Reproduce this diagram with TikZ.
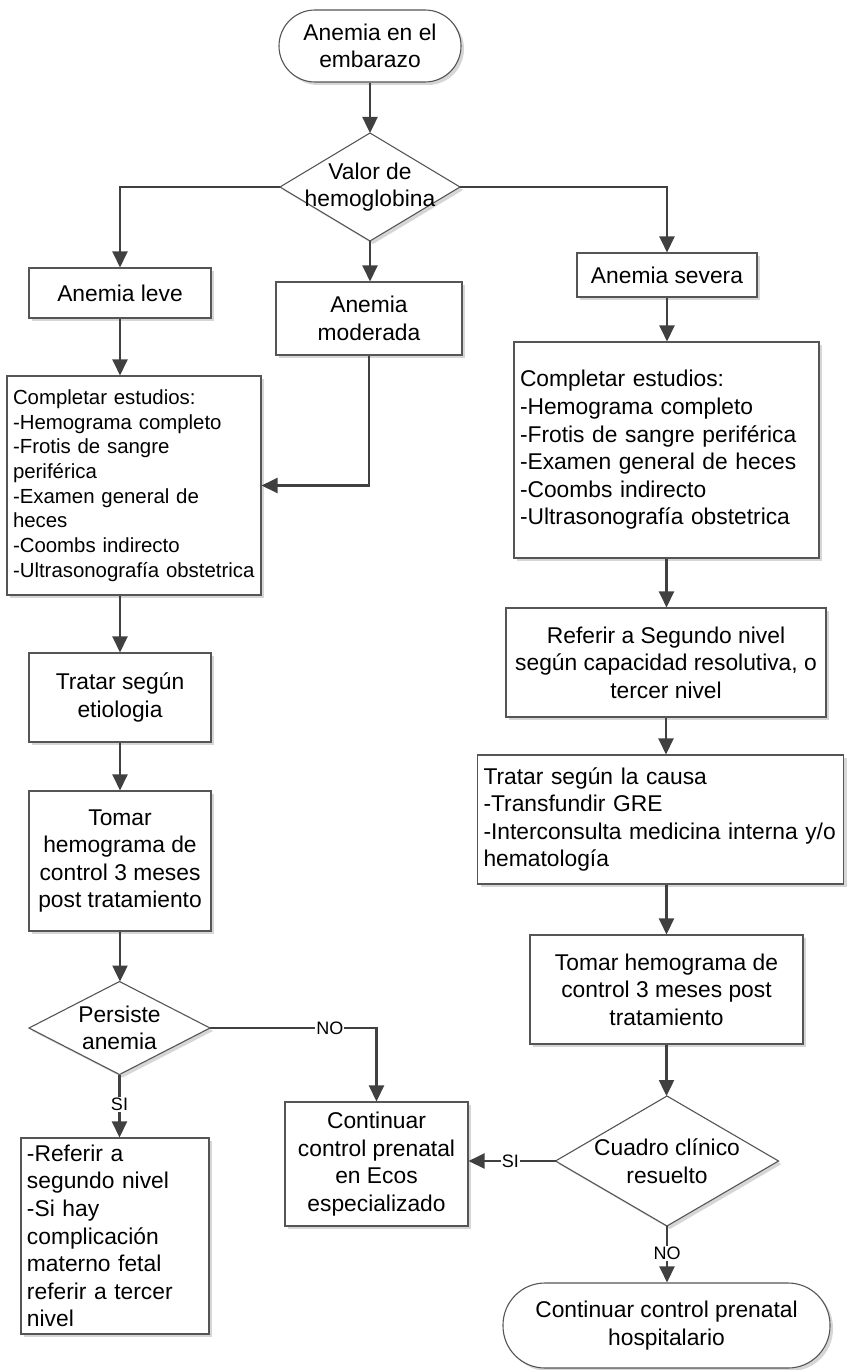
\documentclass[tikz,border=0pt]{standalone}
\usepackage{fontspec}
\setmainfont{Liberation Sans}
\usetikzlibrary{arrows.meta,shapes.geometric,shadows}
\definecolor{edgec}{HTML}{555555}
\definecolor{linec}{HTML}{404040}
\newcommand\mainfs{\fontsize{22.8}{27.6}\selectfont}
\newcommand\smallfs{\fontsize{20.4}{24.7}\selectfont}
\begin{document}
\begin{tikzpicture}[x=1pt,y=-1pt,
  shad/.style={drop shadow={shadow xshift=3pt,shadow yshift=-3pt,fill=black!16,opacity=1}},
  box/.style={rectangle,draw=edgec,line width=1.1pt,fill=white,inner sep=0pt,align=center,font=\mainfs,shad},
  lbox/.style={box,align=left,inner xsep=6pt},
  term/.style={box},
  dia/.style={diamond,draw=edgec,line width=1.1pt,fill=white,inner sep=0pt,outer sep=0pt,shad},
  dtext/.style={align=center,font=\mainfs,inner sep=0pt},
  arr/.style={draw=linec,line width=2.4pt,-{Triangle[length=16pt,width=15pt]}},
  lbl/.style={fill=white,inner sep=1pt,font=\fontsize{18}{20}\selectfont,text=black}
]
\useasboundingbox (0,0) rectangle (846,1370);

% nodes
\node[term,rounded corners=36pt,minimum width=182pt,minimum height=72pt] (start) at (370,46) {Anemia en el\\embarazo};
\node[dia,minimum width=180pt,minimum height=108pt] (d1) at (370,187) {};
\node[dtext] (t1) at (370,187) {Valor de\\hemoglobina};

\node[box,minimum width=182pt,minimum height=50pt] (leve) at (120,293) {Anemia leve};
\node[box,minimum width=186pt,minimum height=73pt] (mod) at (369,318.5) {Anemia\\moderada};
\node[box,minimum width=180pt,minimum height=44pt] (sev) at (667,275) {Anemia severa};

\node[lbox,font=\smallfs,text width=242pt,minimum height=219pt] (compL) at (134,485.5) {Completar estudios:\\-Hemograma completo\\-Frotis de sangre\\periférica\\-Examen general de\\heces\\-Coombs indirecto\\-Ultrasonografía obstetrica};
\node[lbox,text width=293pt,minimum height=216pt] (compR) at (666.5,450) {Completar estudios:\\-Hemograma completo\\-Frotis de sangre periférica\\-Examen general de heces\\-Coombs indirecto\\-Ultrasonografía obstetrica};

\node[box,minimum width=320pt,minimum height=109pt] (refR) at (666,662.5) {Referir a Segundo nivel\\según capacidad resolutiva, o\\tercer nivel};
\node[lbox,text width=354pt,minimum height=129pt] (tratR) at (660.5,819.5) {Tratar según la causa\\-Transfundir GRE\\-Interconsulta medicina interna y/o\\hematología};
\node[box,minimum width=273pt,minimum height=109pt] (tomR) at (666.5,989.5) {Tomar hemograma de\\control 3 meses post\\tratamiento};
\node[dia,minimum width=223pt,minimum height=130pt] (d3) at (667,1161) {};
\node[dtext] (t3) at (667,1161) {Cuadro clínico\\resuelto};
\node[term,rounded corners=42pt,minimum width=327pt,minimum height=85pt] (fin) at (666.5,1325.5) {Continuar control prenatal\\hospitalario};

\node[box,minimum width=182pt,minimum height=89pt] (tratL) at (120,697.5) {Tratar según\\etiologia};
\node[box,minimum width=182pt,minimum height=140pt] (tomL) at (120,861) {Tomar\\hemograma de\\control 3 meses\\post tratamiento};
\node[dia,minimum width=181pt,minimum height=93pt] (d2) at (119.5,1028) {};
\node[dtext] (t2) at (119.5,1028) {Persiste\\anemia};
\node[lbox,text width=176pt,minimum height=196pt] (refL) at (115,1236) {-Referir a\\segundo nivel\\-Si hay\\complicación\\materno fetal\\referir a tercer\\nivel};
\node[box,minimum width=183pt,minimum height=124pt] (cont) at (376.5,1164) {Continuar\\control prenatal\\en Ecos\\especializado};

% connectors
\draw[arr] (start.south) -- (start.south |- d1.north);
\draw[arr] (d1.west) -| (leve.north);
\draw[arr] (d1.south) -- (d1.south |- mod.north);
\draw[arr] (d1.east) -| (sev.north);
\draw[arr] (leve.south) -- (leve.south |- compL.north);
\draw[arr] (mod.south) |- (compL.east);
\draw[arr] (sev.south) -- (sev.south |- compR.north);
\draw[arr] (compR.south) -- (compR.south |- refR.north);
\draw[arr] (refR.south) -- (refR.south |- tratR.north);
\draw[arr] (tomR.north |- tratR.south) -- (tomR.north);
\draw[arr] (tomR.south) -- (tomR.south |- d3.north);
\draw[arr] (compL.south -| tratL.north) -- (tratL.north);
\draw[arr] (tratL.south) -- (tomL.north);
\draw[arr] (tomL.south) -- (tomL.south |- d2.north);
\draw[arr] (d2.east) -| node[lbl,pos=0.36] (noL) {NO} (cont.north);
\draw[arr] (d2.south) -- node[lbl,pos=0.48] (siL) {SI} (d2.south |- refL.north);
\draw[arr] (d3.west) -- node[lbl,pos=0.52] (siR) {SI} (d3.west -| cont.east);
\draw[arr] (d3.south) -- node[lbl,pos=0.49] (noR) {NO} (d3.south |- fin.north);
\end{tikzpicture}
\end{document}
